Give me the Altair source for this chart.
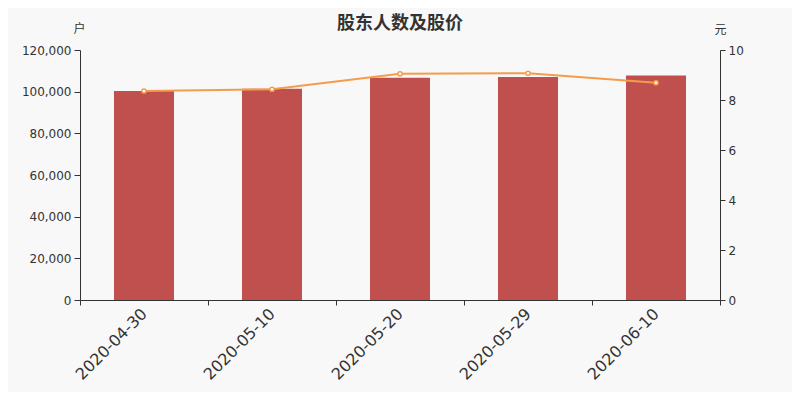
import altair as alt
import pandas as pd

dates = ["2020-04-30", "2020-05-10", "2020-05-20", "2020-05-29", "2020-06-10"]
holders = [100300, 101400, 106700, 107000, 107800]
price = [8.36, 8.43, 9.05, 9.07, 8.69]

df = pd.DataFrame({"date": dates, "holders": holders, "price": price})

x_enc = alt.X(
    "date:N",
    sort=dates,
    scale=alt.Scale(paddingInner=0, paddingOuter=0),
    axis=alt.Axis(
        title=None,
        labelAngle=-45,
        labelAlign="right",
        labelBaseline="middle",
        labelFontSize=16,
        labelColor="#333333",
        labelFont="DejaVu Sans",
        tickBand="extent",
        tickSize=5,
        domainColor="#333333",
        tickColor="#333333",
        labelPadding=6,
    ),
)

bars = alt.Chart(df).mark_bar(width=60, color="#c0504d").encode(
    x=x_enc,
    y=alt.Y(
        "holders:Q",
        scale=alt.Scale(domain=[0, 120000]),
        axis=alt.Axis(
            title="户",
            titleAngle=0,
            titleX=-1,
            titleY=-22,
            titleAlign="center",
            titleBaseline="middle",
            titleFont="Noto Sans CJK SC",
            titleFontSize=12,
            titleFontWeight="normal",
            titleColor="#333333",
            values=[0, 20000, 40000, 60000, 80000, 100000, 120000],
            format=",d",
            labelFontSize=12,
            labelFont="DejaVu Sans",
            labelColor="#333333",
            grid=False,
            tickSize=6,
            domainColor="#333333",
            tickColor="#333333",
            labelPadding=3,
        ),
    ),
)

line_y = alt.Y(
    "price:Q",
    scale=alt.Scale(domain=[0, 10]),
    axis=alt.Axis(
        orient="right",
        title="元",
        titleAngle=0,
        titleX=0,
        titleY=-21,
        titleAlign="center",
        titleBaseline="middle",
        titleFont="Noto Sans CJK SC",
        titleFontSize=12,
        titleFontWeight="normal",
        titleColor="#333333",
        values=[0, 2, 4, 6, 8, 10],
        labelFontSize=12,
        labelFont="DejaVu Sans",
        labelColor="#333333",
        grid=False,
        tickSize=5,
        domainColor="#333333",
        tickColor="#333333",
        labelPadding=3,
    ),
)

line = alt.Chart(df).mark_line(color="#f59c4b", strokeWidth=2).encode(x=x_enc, y=line_y)
points = alt.Chart(df).mark_point(
    filled=True, fill="white", stroke="#f59c4b", strokeWidth=1.5, size=18, opacity=1
).encode(x=x_enc, y=alt.Y("price:Q", scale=alt.Scale(domain=[0, 10]), axis=None))

chart = (
    alt.layer(bars, line, points)
    .resolve_scale(y="independent")
    .properties(
        width=640,
        height=250,
        background="#f8f8f8",
        autosize=alt.AutoSizeParams(type="none"),
        padding={"left": 72, "top": 42, "right": 72, "bottom": 92},
        title=alt.TitleParams(
            "股东人数及股价",
            anchor="middle",
            frame="group",
            font="Noto Sans CJK SC",
            fontSize=18,
            fontWeight="bold",
            color="#333333",
            offset=-11,
        ),
    )
    .configure_view(stroke=None)
)

chart.save("out.html", embed_options={"renderer": "svg", "actions": False})
